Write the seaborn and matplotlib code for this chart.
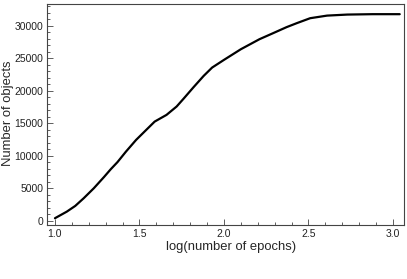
import matplotlib
matplotlib.use("Agg")
import matplotlib.pyplot as plt
from matplotlib.ticker import MultipleLocator
import seaborn as sns
import pandas as pd

# values
log_epochs = [1.0, 1.07, 1.12, 1.17, 1.23, 1.29, 1.33, 1.37, 1.42, 1.48, 1.54, 1.59,
              1.66, 1.72, 1.76, 1.82, 1.88, 1.93, 2.0, 2.1, 2.21, 2.29, 2.37, 2.43,
              2.51, 2.61, 2.73, 2.88, 3.04]
n_objects = [420, 1430, 2310, 3490, 5030, 6750, 7950, 9050, 10660, 12460, 14000, 15280,
             16310, 17600, 18770, 20570, 22310, 23590, 24770, 26410, 27950, 28870, 29800, 30410,
             31180, 31580, 31740, 31800, 31800]

df = pd.DataFrame({"x": log_epochs, "y": n_objects})

sns.set_style("ticks")
plt.rcParams['font.family'] = ['Liberation Sans', 'DejaVu Sans']

fig = plt.figure(figsize=(4.07, 2.79), dpi=100)
ax = fig.add_axes([0.1155, 0.192, 0.877, 0.794])
sns.lineplot(data=df, x="x", y="y", color='black', linewidth=1.6, ax=ax)

ax.set_xlim(0.953, 3.065)
ax.set_ylim(-690, 33380)
ax.xaxis.set_major_locator(MultipleLocator(0.5))
ax.xaxis.set_minor_locator(MultipleLocator(0.1))
ax.yaxis.set_major_locator(MultipleLocator(5000))
ax.yaxis.set_minor_locator(MultipleLocator(1000))
ax.tick_params(which='both', direction='in', colors='#444444', labelcolor='#222222',
               labelsize=7.5, width=0.6, pad=2.5)
ax.tick_params(which='major', length=4)
ax.tick_params(which='minor', length=2)
for s in ax.spines.values():
    s.set_color('#444444')
    s.set_linewidth(0.8)
ax.set_xlabel("log(number of epochs)", fontsize=9.4)
ax.set_ylabel("Number of objects", fontsize=9.4)
ax.xaxis.set_label_coords(0.517, -0.07)
ax.yaxis.set_label_coords(-0.093, 0.505)

fig.savefig("out.png", dpi=100)
